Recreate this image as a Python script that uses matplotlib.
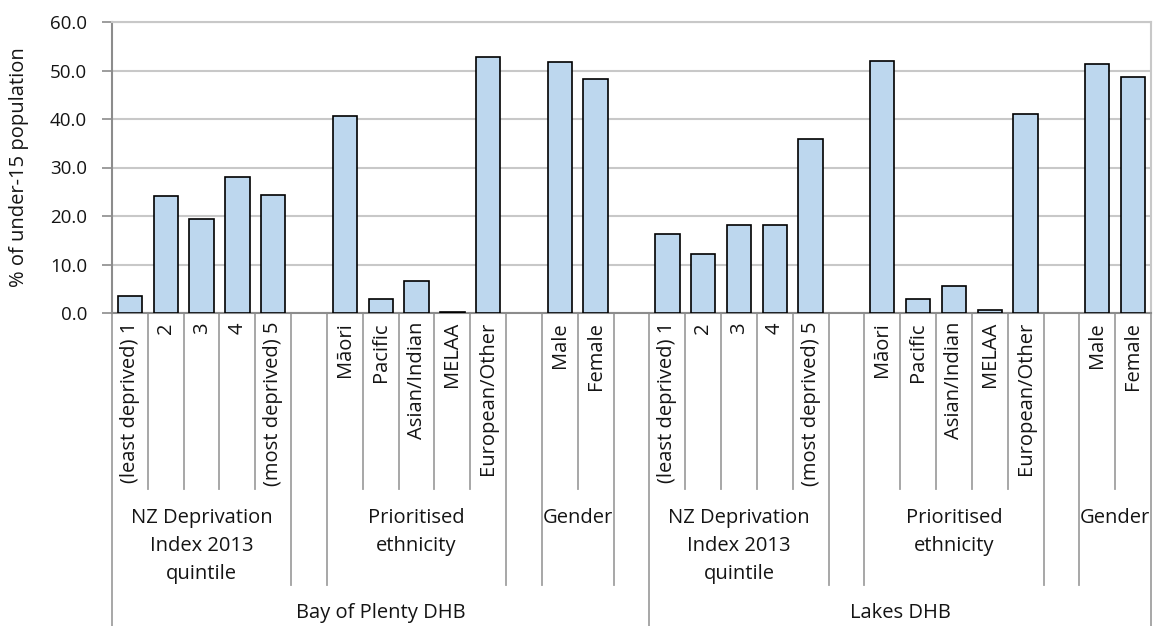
import matplotlib.pyplot as plt
import matplotlib.transforms as mtransforms

plt.rcParams['font.family'] = ['Open Sans', 'DejaVu Sans']

# data
dhbs = ["Bay of Plenty DHB", "Lakes DHB"]
group_names = ["NZ Deprivation\nIndex 2013\nquintile", "Prioritised\nethnicity", "Gender"]
quintile_labels = ["(least deprived) 1", "2", "3", "4", "(most deprived) 5"]
ethnicity_labels = ["Māori", "Pacific", "Asian/Indian", "MELAA", "European/Other"]
gender_labels = ["Male", "Female"]

bop_quintile = [3.6, 24.1, 19.4, 28.1, 24.4]
bop_ethnicity = [40.7, 2.9, 6.5, 0.3, 52.7]
bop_gender = [51.7, 48.3]
lakes_quintile = [16.2, 12.2, 18.2, 18.2, 35.8]
lakes_ethnicity = [52.0, 2.9, 5.6, 0.6, 41.0]
lakes_gender = [51.4, 48.7]

series = [
    [bop_quintile, bop_ethnicity, bop_gender],
    [lakes_quintile, lakes_ethnicity, lakes_gender],
]
labels = [quintile_labels, ethnicity_labels, gender_labels]

# lay out slots: groups separated by a blank slot, blank slot also between DHBs
slots = []  # (value, label, group_key, dhb_index, group_index)
gid = 0
for d, dhb_vals in enumerate(series):
    for g, vals in enumerate(dhb_vals):
        for v, lab in zip(vals, labels[g]):
            slots.append((v, lab, gid, d, g))
        gid += 1
        if not (d == len(series) - 1 and g == len(dhb_vals) - 1):
            slots.append((None, "", gid, d, None))
            gid += 1

n = len(slots)
W, H = 1154, 626
FS = 14.5
TXT = "#141414"
fig = plt.figure(figsize=(W / 100, H / 100), dpi=100)
ax = fig.add_axes([112 / W, 1 - 313 / H, (1151 - 112) / W, (313 - 22) / H])

xs = [i for i, s in enumerate(slots) if s[0] is not None]
vals = [s[0] for s in slots if s[0] is not None]
ax.bar(xs, vals, width=0.68, color="#BDD7EE", edgecolor="black", linewidth=1.2, zorder=3)

ax.set_xlim(-0.5, n - 0.5)
ax.set_ylim(0, 60)
ax.set_yticks(range(0, 61, 10))
ax.set_yticklabels([f"{v:.1f}" for v in range(0, 61, 10)])
ax.set_xticks([])
ax.grid(axis="y", color="#c8c8c8", linewidth=1.5, zorder=0)
ax.tick_params(axis="y", direction="out", length=7, width=1.2, color="#8c8c8c",
               labelsize=13.5, labelcolor=TXT, pad=11)
for side in ["top", "right"]:
    ax.spines[side].set_color("#c8c8c8")
    ax.spines[side].set_linewidth(1.5)
for side in ["left", "bottom"]:
    ax.spines[side].set_color("#8c8c8c")
    ax.spines[side].set_linewidth(1.5)

ax.set_ylabel("% of under-15 population", fontsize=FS, color=TXT)
ax.yaxis.set_label_coords((29 - 112) / (1151 - 112), 0.5)

# multi-level category axis
trans = mtransforms.blended_transform_factory(ax.transData, fig.transFigure)
y_axis = 1 - 313 / H
y_lvl1 = 1 - 489 / H
y_lvl2 = 1 - 585 / H
y_lvl3 = 0.0
sep_color = "#a0a0a0"

for b in range(n + 1):
    x = b - 0.5
    if b == 0 or b == n or slots[b - 1][3] != slots[b][3]:
        ybot = y_lvl3
    elif slots[b - 1][2] != slots[b][2]:
        ybot = y_lvl2
    else:
        ybot = y_lvl1
    ax.plot([x, x], [y_axis, ybot], transform=trans, color=sep_color,
            linewidth=1.3, clip_on=False)

for i, s in enumerate(slots):
    if s[1]:
        ax.text(i, 1 - 322 / H, s[1], transform=trans, rotation=90, ha="center",
                va="top", fontsize=FS, color=TXT)

# group labels
groups = {}
for i, s in enumerate(slots):
    if s[4] is not None:
        groups.setdefault(s[2], []).append((i, s[4]))
for key, items in groups.items():
    idx = [it[0] for it in items]
    ax.text((min(idx) + max(idx)) / 2, 1 - 508 / H, group_names[items[0][1]],
            transform=trans, ha="center", va="top", fontsize=FS,
            color=TXT, linespacing=1.55)

# DHB labels
for d, name in enumerate(dhbs):
    idx = [i for i, s in enumerate(slots) if s[3] == d]
    ax.text((min(idx) + max(idx) + 1) / 2 - 0.5, 1 - 613 / H, name, transform=trans,
            ha="center", va="center", fontsize=FS, color=TXT)

fig.savefig("out.png", dpi=100)
